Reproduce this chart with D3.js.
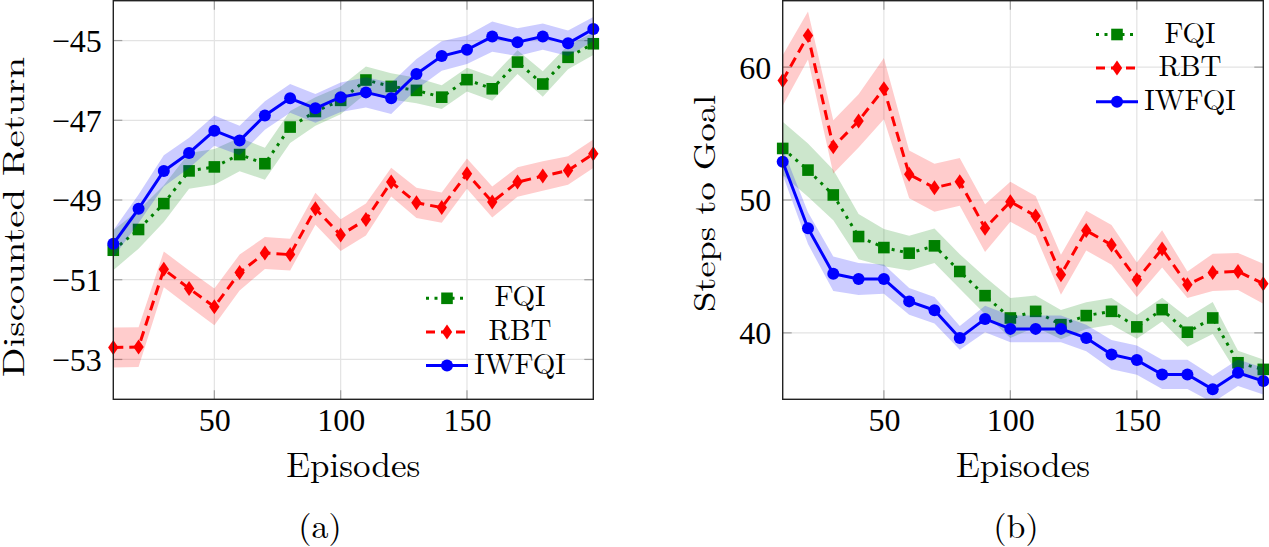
<!DOCTYPE html>
<html><head><meta charset="utf-8">
<script src="https://cdn.jsdelivr.net/npm/d3@7"></script>
<style>
body{margin:0;background:#fff}
svg{display:block}
text{font-family:"Latin Modern Roman","CMU Serif","Liberation Serif","Times New Roman",serif;fill:#000}
</style>
</head><body>
<svg id="c" width="1269" height="547"></svg>
<script>
// ---------- data ----------
const episodes = [10,20,30,40,50,60,70,80,90,100,110,120,130,140,150,160,170,180,190,200];
const seriesNames = ["FQI","RBT","IWFQI"];
const xTicks = [50,100,150];
const leftYTicks = [-53,-51,-49,-47,-45];
const rightYTicks = [40,50,60];

// (a) Discounted Return
const leftFQI = [-50.26,-49.74,-49.09,-48.27,-48.17,-47.86,-48.09,-47.17,-46.78,-46.50,-45.99,-46.15,-46.25,-46.42,-45.98,-46.21,-45.54,-46.09,-45.42,-45.08];
const leftFQIErr = [0.5,0.48,0.46,0.45,0.45,0.42,0.4,0.4,0.36,0.35,0.34,0.33,0.32,0.3,0.3,0.3,0.3,0.32,0.3,0.28];
const leftRBT = [-52.70,-52.69,-50.74,-51.22,-51.68,-50.82,-50.33,-50.37,-49.22,-49.88,-49.49,-48.55,-49.07,-49.19,-48.34,-49.05,-48.55,-48.40,-48.26,-47.84];
const leftRBTErr = [0.5,0.5,0.45,0.45,0.46,0.45,0.4,0.4,0.4,0.4,0.4,0.36,0.38,0.38,0.38,0.39,0.37,0.37,0.36,0.36];
const leftIWFQI = [-50.10,-49.22,-48.27,-47.82,-47.26,-47.51,-46.88,-46.45,-46.70,-46.42,-46.30,-46.45,-45.84,-45.39,-45.23,-44.90,-45.04,-44.90,-45.07,-44.71];
const leftIWFQIErr = [0.34,0.36,0.39,0.38,0.38,0.37,0.36,0.36,0.36,0.37,0.38,0.39,0.38,0.37,0.36,0.38,0.35,0.33,0.32,0.3];

// (b) Steps to Goal
const rightFQI = [53.88,52.25,50.38,47.25,46.42,46.0,46.55,44.62,42.80,41.12,41.62,40.62,41.30,41.62,40.45,41.75,40.05,41.12,37.75,37.25];
const rightFQIErr = [2.0,2.0,1.9,1.7,1.4,1.3,1.3,1.3,1.4,1.5,1.2,1.1,1.0,1.0,0.9,0.9,1.1,1.2,0.9,0.75];
const rightRBT = [59.0,62.38,54.0,55.95,58.38,51.93,50.92,51.37,47.88,49.87,48.80,44.37,47.7,46.62,44.0,46.32,43.62,44.55,44.62,43.70];
const rightRBTErr = [1.9,1.8,2.0,2.0,2.3,1.8,1.8,1.8,1.8,1.5,1.5,1.5,1.5,1.5,1.3,1.4,1.0,1.4,1.4,1.5];
const rightIWFQI = [52.88,47.88,44.45,44.05,44.05,42.37,41.70,39.62,41.05,40.30,40.30,40.30,39.62,38.37,37.95,36.87,36.87,35.75,37.0,36.37];
const rightIWFQIErr = [1.0,1.2,1.3,1.2,1.1,1.0,1.0,0.9,1.0,1.0,1.0,1.0,1.0,1.1,1.1,1.1,1.1,1.0,1.0,1.0];

// ---------- styles ----------
const styles = {
  FQI:   {color:"#008000", dash:"3,5.5", marker:"square"},
  RBT:   {color:"#ff0000", dash:"10,6", marker:"diamond"},
  IWFQI: {color:"#0000ff", dash:null, marker:"circle"}
};

const svg = d3.select("#c");

function drawMarker(g, type, cx, cy, color){
  if(type==="circle"){
    g.append("circle").attr("cx",cx).attr("cy",cy).attr("r",6).attr("fill",color);
  } else if(type==="square"){
    g.append("rect").attr("x",cx-5.8).attr("y",cy-5.8).attr("width",11.6).attr("height",11.6).attr("fill",color);
  } else {
    g.append("path").attr("transform",`translate(${cx},${cy})`)
      .attr("d","M0,-7.5L5.2,0L0,7.5L-5.2,0Z").attr("fill",color);
  }
}

function panel(cfg){
  const g = svg.append("g");
  const x = d3.scaleLinear().domain([10,200]).range([cfg.x0,cfg.x1]);
  const y = d3.scaleLinear().domain(cfg.yDomain).range([cfg.y1,cfg.y0]);
  const clipId = "clip"+cfg.id;
  svg.append("clipPath").attr("id",clipId).append("rect")
    .attr("x",cfg.x0).attr("y",cfg.y0).attr("width",cfg.x1-cfg.x0).attr("height",cfg.y1-cfg.y0);

  // grid
  g.selectAll(".gx").data(xTicks).enter().append("line")
    .attr("x1",d=>x(d)).attr("x2",d=>x(d)).attr("y1",cfg.y0).attr("y2",cfg.y1)
    .attr("stroke","#e3e3e3").attr("stroke-width",1.2);
  g.selectAll(".gy").data(cfg.yTicks).enter().append("line")
    .attr("y1",d=>y(d)).attr("y2",d=>y(d)).attr("x1",cfg.x0).attr("x2",cfg.x1)
    .attr("stroke","#e3e3e3").attr("stroke-width",1.2);

  // inner ticks (all 4 sides)
  const tl = 9, tc = "#a0a0a0";
  xTicks.forEach(t=>{
    g.append("line").attr("x1",x(t)).attr("x2",x(t)).attr("y1",cfg.y1).attr("y2",cfg.y1-tl).attr("stroke",tc).attr("stroke-width",1.2);
    g.append("line").attr("x1",x(t)).attr("x2",x(t)).attr("y1",cfg.y0).attr("y2",cfg.y0+tl).attr("stroke",tc).attr("stroke-width",1.2);
  });
  cfg.yTicks.forEach(t=>{
    g.append("line").attr("y1",y(t)).attr("y2",y(t)).attr("x1",cfg.x0).attr("x2",cfg.x0+tl).attr("stroke",tc).attr("stroke-width",1.2);
    g.append("line").attr("y1",y(t)).attr("y2",y(t)).attr("x1",cfg.x1).attr("x2",cfg.x1-tl).attr("stroke",tc).attr("stroke-width",1.2);
  });

  // series: band, line, markers
  cfg.series.forEach(s=>{
    const st = styles[s.name];
    const pts = episodes.map((e,i)=>({e, v:s.values[i], err:s.err[i]}));
    const area = d3.area().x(d=>x(d.e)).y0(d=>y(d.v-d.err)).y1(d=>y(d.v+d.err));
    g.append("path").datum(pts).attr("d",area).attr("fill",st.color).attr("fill-opacity",0.2)
      .attr("clip-path",`url(#${clipId})`);
    const line = d3.line().x(d=>x(d.e)).y(d=>y(d.v));
    const p = g.append("path").datum(pts).attr("d",line).attr("fill","none")
      .attr("stroke",st.color).attr("stroke-width",3).attr("stroke-linejoin","round");
    if(st.dash) p.attr("stroke-dasharray",st.dash);
    const mg = g.append("g");
    pts.forEach(d=>drawMarker(mg, st.marker, x(d.e), y(d.v), st.color));
  });

  // frame
  g.append("rect").attr("x",cfg.x0).attr("y",cfg.y0).attr("width",cfg.x1-cfg.x0).attr("height",cfg.y1-cfg.y0)
    .attr("fill","none").attr("stroke","#222").attr("stroke-width",1.4);

  // axes labels (via d3 axes, tick lines hidden)
  const ax = g.append("g").attr("transform",`translate(0,${cfg.y1})`)
    .call(d3.axisBottom(x).tickValues(xTicks).tickSize(0).tickPadding(0));
  ax.select(".domain").remove();
  ax.selectAll("text").attr("font-size",32).attr("dy",null).attr("y",cfg.xTickBase-cfg.y1)
    .style("font-family",'"Liberation Serif","Times New Roman",serif');
  const ay = g.append("g").attr("transform",`translate(${cfg.x0},0)`)
    .call(d3.axisLeft(y).tickValues(cfg.yTicks).tickSize(0).tickPadding(11.5).tickFormat(d3.format("d")));
  ay.select(".domain").remove();
  ay.selectAll("text").attr("font-size",32).attr("dy","0.34em")
    .style("font-family",'"Liberation Serif","Times New Roman",serif');

  // axis titles
  g.append("text").attr("x",(cfg.x0+cfg.x1)/2).attr("y",477).attr("text-anchor","middle")
    .attr("font-size",35).text("Episodes");
  g.append("text").attr("transform",`translate(${cfg.yl.x},${cfg.yl.y}) rotate(-90)`)
    .attr("text-anchor","middle").attr("font-size",30)
    .attr("textLength",cfg.yl.len).attr("lengthAdjust","spacingAndGlyphs").text(cfg.ylabel);
  g.append("text").attr("x",cfg.sub.x).attr("y",538).attr("text-anchor","middle")
    .attr("font-size",34).text(cfg.sub.t);

  // legend
  cfg.series.forEach((s,i)=>{
    const st = styles[s.name];
    const ly = cfg.leg.y + i*33.6;
    const cx = cfg.leg.x - 73;
    const l = g.append("line").attr("x1",cx-21).attr("x2",cx+21).attr("y1",ly).attr("y2",ly)
      .attr("stroke",st.color).attr("stroke-width",3);
    if(st.dash) l.attr("stroke-dasharray", s.name==="RBT" ? "9,6" : "3,5.5");
    drawMarker(g, st.marker, cx, ly, st.color);
    g.append("text").attr("x",cfg.leg.x).attr("y",ly+8).attr("text-anchor","middle")
      .attr("font-size",29).text(s.name);
  });
}

panel({
  id:"a", x0:113.3, x1:593.3, y0:0.7, y1:399.3, yDomain:[-54,-44], yTicks:leftYTicks,
  xTickBase:431.5, ylabel:"Discounted Return", yl:{x:24, y:217, len:320},
  sub:{x:320, t:"(a)"}, leg:{x:520, y:298.3},
  series:[
    {name:"FQI", values:leftFQI, err:leftFQIErr},
    {name:"RBT", values:leftRBT, err:leftRBTErr},
    {name:"IWFQI", values:leftIWFQI, err:leftIWFQIErr}
  ]
});
panel({
  id:"b", x0:782.7, x1:1263.3, y0:0.7, y1:399.3, yDomain:[35,65], yTicks:rightYTicks,
  xTickBase:431, ylabel:"Steps to Goal", yl:{x:715, y:203.5, len:217},
  sub:{x:1016, t:"(b)"}, leg:{x:1190, y:34.5},
  series:[
    {name:"FQI", values:rightFQI, err:rightFQIErr},
    {name:"RBT", values:rightRBT, err:rightRBTErr},
    {name:"IWFQI", values:rightIWFQI, err:rightIWFQIErr}
  ]
});
</script>
</body></html>
